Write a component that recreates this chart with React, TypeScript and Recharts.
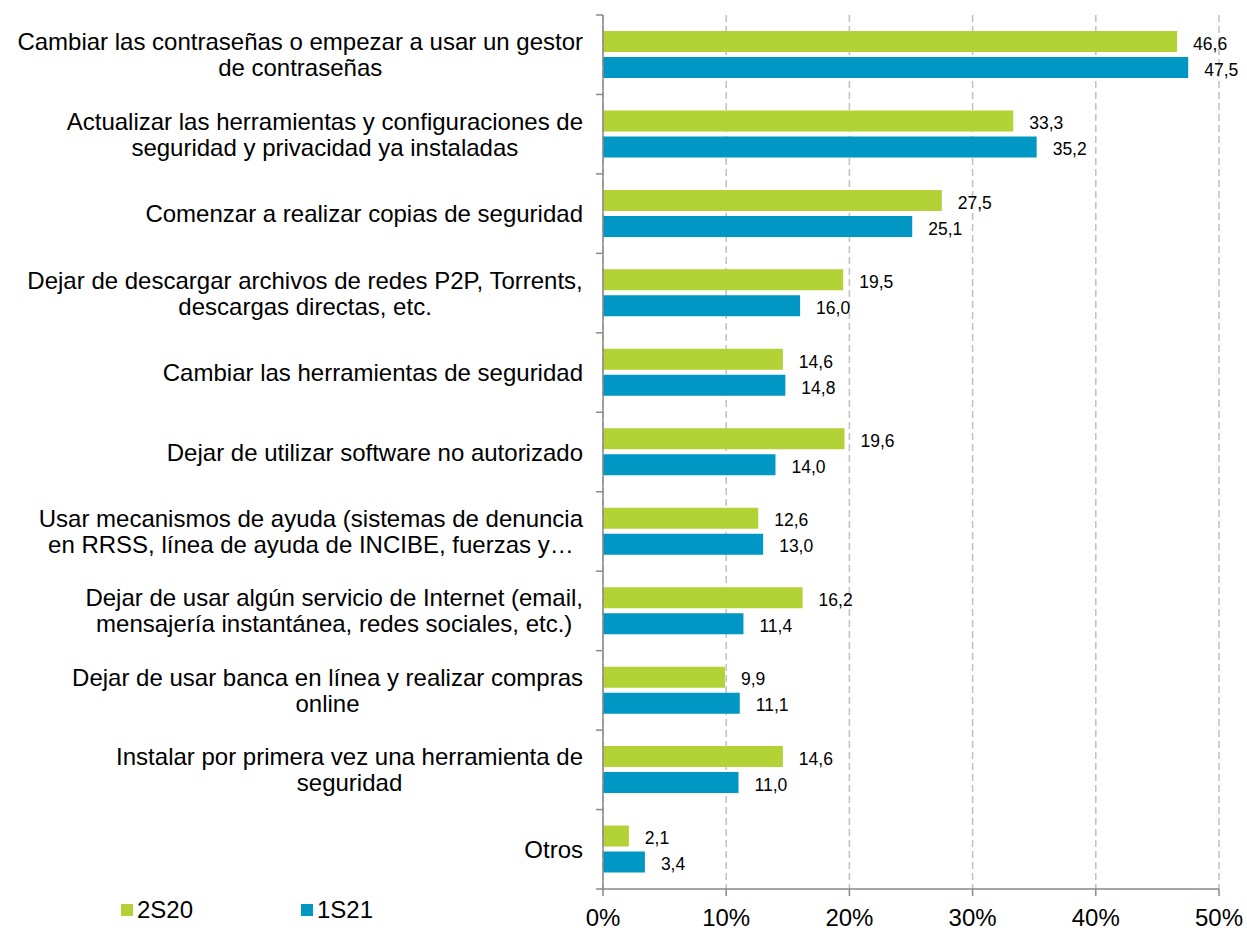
import { BarChart, Bar, XAxis, YAxis, CartesianGrid, LabelList } from 'recharts';

const categories = [
  'Cambiar las contraseñas o empezar a usar un gestor\nde contraseñas',
  'Actualizar las herramientas y configuraciones de\nseguridad y privacidad ya instaladas',
  'Comenzar a realizar copias de seguridad',
  'Dejar de descargar archivos de redes P2P, Torrents,\ndescargas directas, etc.',
  'Cambiar las herramientas de seguridad',
  'Dejar de utilizar software no autorizado',
  'Usar mecanismos de ayuda (sistemas de denuncia\nen RRSS, línea de ayuda de INCIBE, fuerzas y…',
  'Dejar de usar algún servicio de Internet (email,\nmensajería instantánea, redes sociales, etc.)',
  'Dejar de usar banca en línea y realizar compras\nonline',
  'Instalar por primera vez una herramienta de\nseguridad',
  'Otros',
];
const s2S20 = [46.6, 33.3, 27.5, 19.5, 14.6, 19.6, 12.6, 16.2, 9.9, 14.6, 2.1];
const s1S21 = [47.5, 35.2, 25.1, 16.0, 14.8, 14.0, 13.0, 11.4, 11.1, 11.0, 3.4];
const xTicks = [0, 10, 20, 30, 40, 50];
const seriesNames = ['2S20', '1S21'];

const GREEN = '#B2D235';
const BLUE = '#0097C4';
const AXIS = '#898989';
const FONT = '"Liberation Sans", Arial, sans-serif';

const W = 1247;
const H = 933;
const PLOT_LEFT = 603;
const PLOT_RIGHT = 1219;
const PLOT_TOP = 15;
const PLOT_BOTTOM = 889;
const BAND = (PLOT_BOTTOM - PLOT_TOP) / categories.length;
const LABEL_SIZE = 24;

const data = categories.map((name, i) => ({ name, a: s2S20[i], b: s1S21[i] }));

let ctx: CanvasRenderingContext2D | null = null;
function measure(text: string) {
  if (!ctx) {
    ctx = document.createElement('canvas').getContext('2d');
    if (ctx) ctx.font = `${LABEL_SIZE}px ${FONT}`;
  }
  return ctx ? ctx.measureText(text).width : text.length * 12;
}

const CategoryTick = (props: any) => {
  const { y, payload, index } = props;
  const lines: string[] = String(payload.value).split('\n');
  const maxW = Math.max(...lines.map(measure));
  const cx = PLOT_LEFT - 20 - maxW / 2;
  const lh = 26;
  const y0 = y - ((lines.length - 1) * lh) / 2;
  return (
    <g>
      <line x1={PLOT_LEFT - 7} x2={PLOT_LEFT} y1={y - BAND / 2} y2={y - BAND / 2} stroke={AXIS} strokeWidth={1.5} />
      {index === categories.length - 1 && (
        <line x1={PLOT_LEFT - 7} x2={PLOT_LEFT} y1={y + BAND / 2} y2={y + BAND / 2} stroke={AXIS} strokeWidth={1.5} />
      )}
      {lines.map((l, i) => (
        <text
          key={i}
          x={cx}
          y={y0 + i * lh}
          textAnchor="middle"
          dominantBaseline="central"
          fontSize={LABEL_SIZE}
          fontFamily={FONT}
          fill="#000"
        >
          {l}
        </text>
      ))}
    </g>
  );
};

const fmt = (v: any) => Number(v).toFixed(1).replace('.', ',');

export default function App() {
  return (
    <div style={{ position: 'absolute', left: 0, top: 0, width: W, height: H, background: '#fff' }}>
      <BarChart
        width={W}
        height={H}
        data={data}
        layout="vertical"
        margin={{ top: PLOT_TOP, right: W - PLOT_RIGHT, bottom: 0, left: 0 }}
        barCategoryGap={16}
        barGap={5}
      >
        <CartesianGrid horizontal={false} stroke="#C0C0C0" strokeDasharray="7 4" strokeWidth={1.5} />
        <XAxis
          type="number"
          domain={[0, 50]}
          ticks={xTicks}
          tickFormatter={(v) => `${v}%`}
          stroke={AXIS}
          strokeWidth={1.5}
          tickSize={7}
          height={H - PLOT_BOTTOM}
          tick={{ fontSize: LABEL_SIZE, fontFamily: FONT, fill: '#000' }}
          tickMargin={13}
          interval={0}
        />
        <YAxis
          type="category"
          dataKey="name"
          width={PLOT_LEFT}
          tickLine={false}
          stroke={AXIS}
          strokeWidth={1.5}
          tick={<CategoryTick />}
          interval={0}
        />
        <Bar dataKey="a" name={seriesNames[0]} fill={GREEN} isAnimationActive={false}>
          <LabelList dataKey="a" position="right" offset={16} formatter={fmt} fontSize={17.5} fontFamily={FONT} fill="#000" dy={2} />
        </Bar>
        <Bar dataKey="b" name={seriesNames[1]} fill={BLUE} isAnimationActive={false}>
          <LabelList dataKey="b" position="right" offset={16} formatter={fmt} fontSize={17.5} fontFamily={FONT} fill="#000" dy={2} />
        </Bar>
      </BarChart>
      <svg style={{ position: 'absolute', left: 0, top: 0 }} width={600} height={H}>
        {seriesNames.map((n, i) => (
          <g key={n}>
            <rect x={121 + i * 180} y={904} width={12} height={12} fill={i === 0 ? GREEN : BLUE} />
            <text x={137 + i * 180} y={918} fontSize={LABEL_SIZE} fontFamily={FONT} fill="#000">
              {n}
            </text>
          </g>
        ))}
      </svg>
    </div>
  );
}
